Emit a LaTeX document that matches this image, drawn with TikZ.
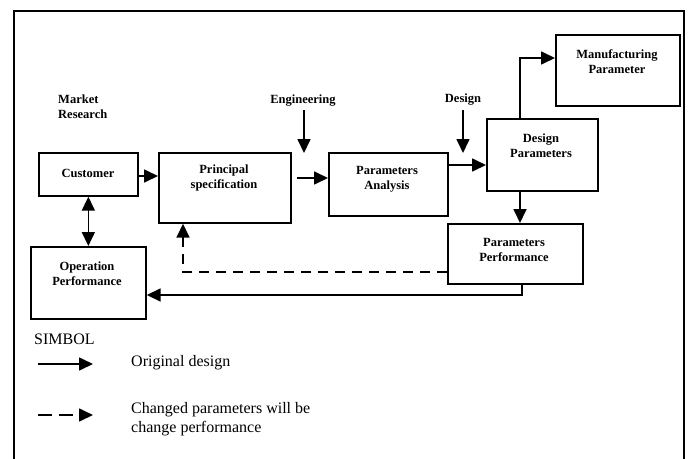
\documentclass[tikz,border=0pt]{standalone}
\usepackage{fontspec}
\setmainfont{Liberation Serif}
\usetikzlibrary{arrows.meta}
\begin{document}
\begin{tikzpicture}[x=1pt,y=-1pt,
  box/.style={draw, line width=1.7pt, inner sep=0pt, anchor=north west},
  lbl/.style={font=\fontsize{12.5}{15}\selectfont\bfseries, align=center, inner sep=0pt},
  legtxt/.style={font=\fontsize{16}{19.5}\selectfont, align=left, anchor=west, inner sep=0pt},
  arr/.style={line width=1.7pt, -{Triangle[length=14pt,width=13pt]}},
  darr/.style={arr, dash pattern=on 10pt off 7pt},
  dual/.style={line width=1.7pt, {Triangle[length=14pt,width=13pt]}-{Triangle[length=14pt,width=13pt]}}]
\useasboundingbox (0,0) rectangle (690,458);
\clip (0,0) rectangle (690,458);
\draw[line width=1.6pt] (14,11) rectangle (684,480);
% boxes
\node[box, minimum width=99pt, minimum height=43pt] (cust) at (38,152) {};
\node[lbl] (custt) at (88,173) {Customer};
\node[box, minimum width=132pt, minimum height=70pt] (prin) at (158,152) {};
\node[lbl] (print) at (224,178) {Principal\\specification};
\node[box, minimum width=119pt, minimum height=63pt] (pa) at (328,152) {};
\node[lbl] (pat) at (387,179) {Parameters\\Analysis};
\node[box, minimum width=111pt, minimum height=72pt] (dp) at (486,118) {};
\node[lbl] (dpt) at (541,145.5) {Design\\Parameters};
\node[box, minimum width=124pt, minimum height=71pt] (mp) at (555,34) {};
\node[lbl] (mpt) at (617,62) {Manufacturing\\Parameter};
\node[box, minimum width=135pt, minimum height=60pt] (pp) at (447,223) {};
\node[lbl] (ppt) at (514,250) {Parameters\\Performance};
\node[box, minimum width=115pt, minimum height=72pt] (op) at (30,246) {};
\node[lbl] (opt) at (87,274) {Operation\\Performance};
% input labels
\node[lbl, align=left, anchor=west] (mr) at (58,106.5) {Market\\Research};
\node[lbl] (eng) at (303,101) {Engineering};
\node[lbl] (des) at (463,100) {Design};
% connectors
\draw[arr] (cust.east |- 0,176) -- (prin.west |- 0,176);
\coordinate (ps) at (297,178);
\draw[arr] (ps) -- (pa.west |- ps);
\draw[arr] (304,110) -- (304,153);
\draw[arr] (pa.east |- 0,165) -- (dp.west |- 0,165);
\draw[arr] (463,110) -- (463,153);
\draw[arr] (dp.north -| 520,0) |- (mp.west |- 0,58);
\draw[arr] (dp.south -| 520,0) -- (pp.north -| 520,0);
\draw[dual] (cust.south) -- (op.north -| cust.south);
\draw[darr] (pp.west |- 0,272) -| (prin.south -| 183,0);
\draw[arr] (pp.south -| 522,0) |- (op.east |- 0,295);
% legend
\node[legtxt] (sim) at (34,339) {SIMBOL};
\coordinate (l1a) at (38,364);
\coordinate (l1b) at (93,364);
\draw[arr] (l1a) -- (l1b);
\node[legtxt] (orig) at (131,363) {Original design};
\coordinate (l2a) at (38,415);
\coordinate (l2b) at (93,415);
\draw[arr, dash pattern=on 14pt off 7pt] (l2a) -- (l2b);
\node[legtxt] (chg) at (131,419) {Changed parameters will be\\change performance};
\end{tikzpicture}
\end{document}
